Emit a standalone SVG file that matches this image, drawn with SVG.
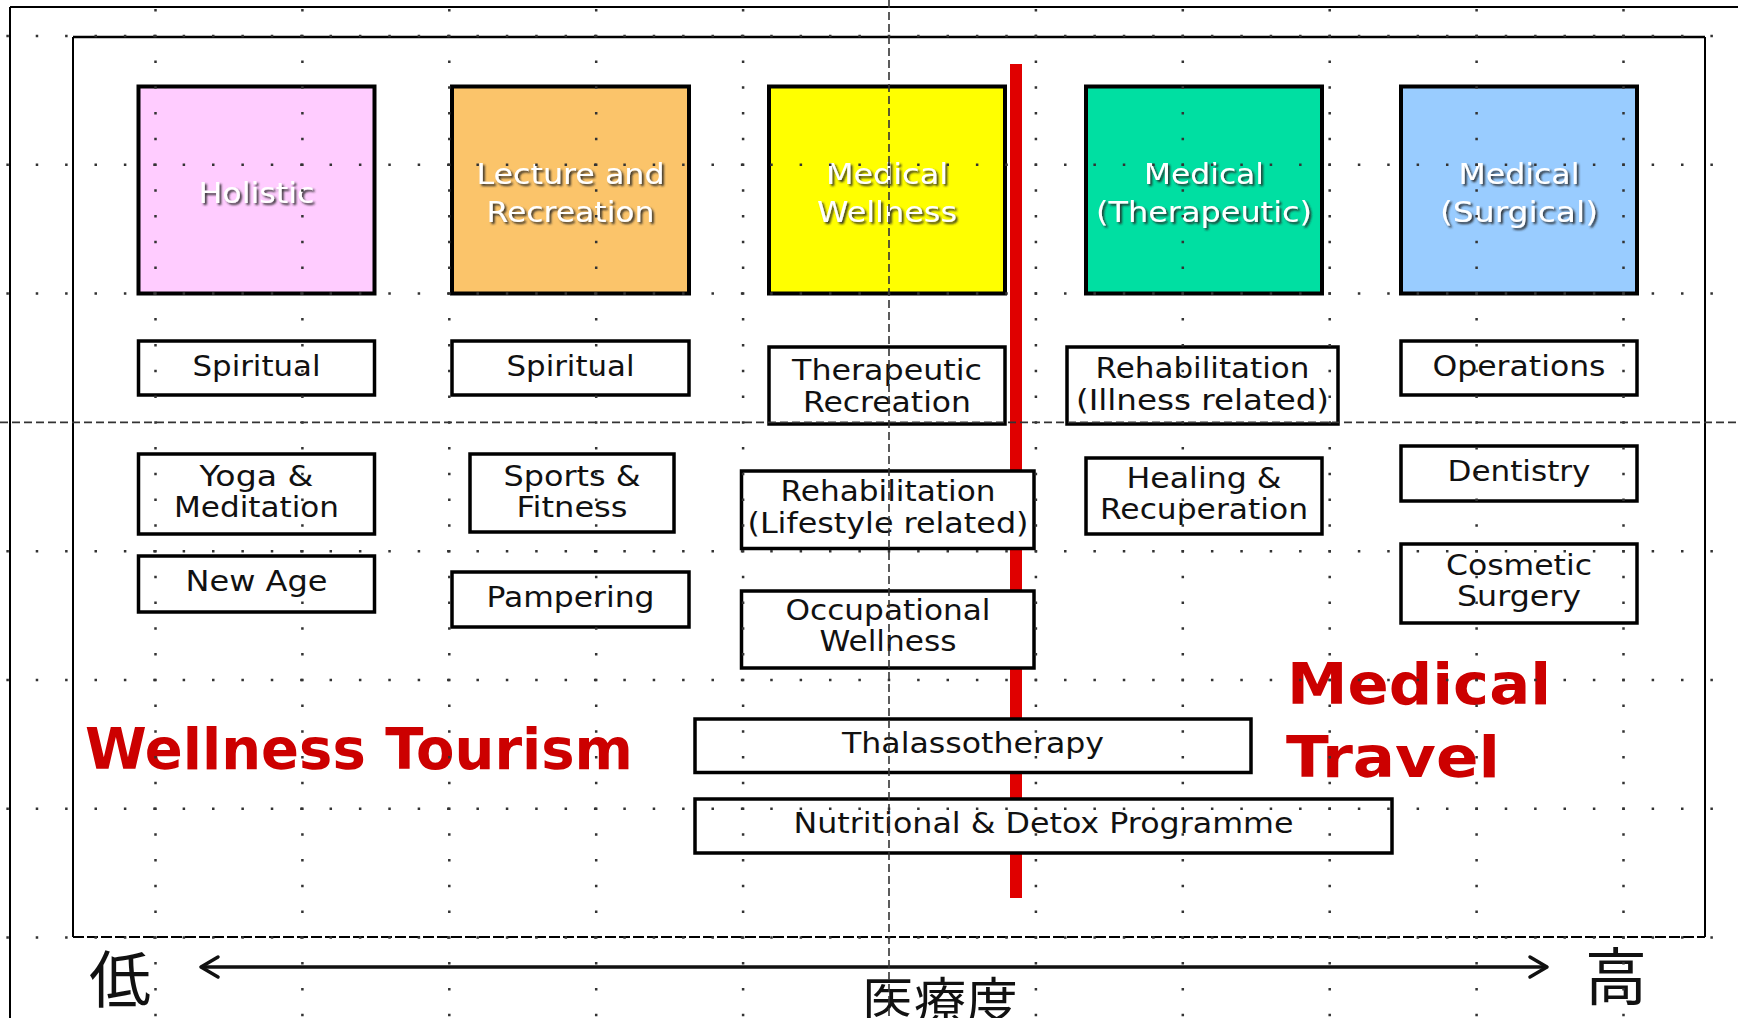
<svg xmlns="http://www.w3.org/2000/svg" width="1738" height="1018" viewBox="0 0 1738 1018">
<style>
.box{fill:#fff;stroke:#000;stroke-width:3.5}
.cbox{stroke:#000;stroke-width:4}
.lbl{font-family:"DejaVu Sans","Liberation Sans",sans-serif;font-size:28px;fill:#111;text-anchor:middle}
.clbl{font-family:"DejaVu Sans","Liberation Sans",sans-serif;font-size:29px;fill:#fff;text-anchor:middle;filter:url(#sh)}
.big{font-family:"DejaVu Sans","Liberation Sans",sans-serif;font-weight:bold;font-size:57px;fill:#cc0000}
.cjk{font-family:"Noto Sans CJK JP","Noto Sans CJK SC",sans-serif;fill:#111}
.hdot{stroke:#333;stroke-width:2.5;stroke-dasharray:2.5 26.88}
.vdot{stroke:#333;stroke-width:2.5;stroke-dasharray:2.5 23.26}
.dash{stroke:#333;stroke-width:1.6;stroke-dasharray:8 4;fill:none}
</style>
<defs>
<filter id="sh" x="-20%" y="-30%" width="140%" height="160%">
<feDropShadow dx="2" dy="2" stdDeviation="0.8" flood-color="#222" flood-opacity="0.9"/>
</filter>
</defs>
<rect width="1738" height="1018" fill="#fff"/>
<g id="frames">
<line x1="10" y1="7" x2="1738" y2="7" stroke="#000" stroke-width="2"/>
<line x1="10" y1="7" x2="10" y2="1018" stroke="#000" stroke-width="2"/>
<line x1="73" y1="37" x2="1705" y2="37" stroke="#000" stroke-width="2.5"/>
<line x1="73" y1="37" x2="73" y2="937" stroke="#000" stroke-width="2"/>
<line x1="1705" y1="37" x2="1705" y2="937" stroke="#000" stroke-width="2"/>
<line x1="73" y1="937" x2="1705" y2="937" stroke="#000" stroke-width="2" stroke-dasharray="11 3"/>
</g>
<rect id="divider" x="1010" y="64" width="12" height="834" fill="#e00000"/>
<g id="holistic"><rect class="cbox" x="138.5" y="86.5" width="236" height="207" fill="#ffccff"/><text class="clbl" x="256.5" y="203" textLength="116" lengthAdjust="spacingAndGlyphs">Holistic</text></g>
<g id="lecture"><rect class="cbox" x="452" y="86.5" width="237" height="207" fill="#fbc46a"/><text class="clbl" x="570.5" y="184" textLength="188" lengthAdjust="spacingAndGlyphs">Lecture and</text><text class="clbl" x="570.5" y="222" textLength="168" lengthAdjust="spacingAndGlyphs">Recreation</text></g>
<g id="medwell"><rect class="cbox" x="769" y="86.5" width="236" height="207" fill="#ffff00"/><text class="clbl" x="887" y="184" textLength="122" lengthAdjust="spacingAndGlyphs">Medical</text><text class="clbl" x="887" y="222" textLength="140" lengthAdjust="spacingAndGlyphs">Wellness</text></g>
<g id="medther"><rect class="cbox" x="1086" y="86.5" width="236" height="207" fill="#00dfa2"/><text class="clbl" x="1204" y="184" textLength="120" lengthAdjust="spacingAndGlyphs">Medical</text><text class="clbl" x="1204" y="222" textLength="216" lengthAdjust="spacingAndGlyphs">(Therapeutic)</text></g>
<g id="medsurg"><rect class="cbox" x="1401" y="86.5" width="236" height="207" fill="#99ccff"/><text class="clbl" x="1519" y="184" textLength="121" lengthAdjust="spacingAndGlyphs">Medical</text><text class="clbl" x="1519" y="222" textLength="158" lengthAdjust="spacingAndGlyphs">(Surgical)</text></g>
<g id="spiritual1"><rect class="box" x="138.5" y="341" width="236" height="54"/><text class="lbl" x="256.5" y="376" textLength="128" lengthAdjust="spacingAndGlyphs">Spiritual</text></g>
<g id="spiritual2"><rect class="box" x="452" y="341" width="237" height="54"/><text class="lbl" x="570.5" y="376" textLength="128" lengthAdjust="spacingAndGlyphs">Spiritual</text></g>
<g id="therrec"><rect class="box" x="769" y="347" width="236" height="77"/><text class="lbl" x="887" y="380" textLength="190" lengthAdjust="spacingAndGlyphs">Therapeutic</text><text class="lbl" x="887" y="412" textLength="168" lengthAdjust="spacingAndGlyphs">Recreation</text></g>
<g id="rehabill"><rect class="box" x="1067" y="347" width="271" height="77"/><text class="lbl" x="1202.5" y="378" textLength="214" lengthAdjust="spacingAndGlyphs">Rehabilitation</text><text class="lbl" x="1202.5" y="410" textLength="253" lengthAdjust="spacingAndGlyphs">(Illness related)</text></g>
<g id="operations"><rect class="box" x="1401" y="341" width="236" height="54"/><text class="lbl" x="1519" y="376" textLength="173" lengthAdjust="spacingAndGlyphs">Operations</text></g>
<g id="yoga"><rect class="box" x="138.5" y="454" width="236" height="80"/><text class="lbl" x="256.5" y="486" textLength="114" lengthAdjust="spacingAndGlyphs">Yoga &amp;</text><text class="lbl" x="256.5" y="517" textLength="165" lengthAdjust="spacingAndGlyphs">Meditation</text></g>
<g id="sports"><rect class="box" x="470" y="454" width="204" height="78"/><text class="lbl" x="572" y="486" textLength="137" lengthAdjust="spacingAndGlyphs">Sports &amp;</text><text class="lbl" x="572" y="517" textLength="111" lengthAdjust="spacingAndGlyphs">Fitness</text></g>
<g id="rehablife"><rect class="box" x="741.5" y="471" width="292.5" height="77.5"/><text class="lbl" x="888" y="501" textLength="215" lengthAdjust="spacingAndGlyphs">Rehabilitation</text><text class="lbl" x="888" y="533" textLength="281" lengthAdjust="spacingAndGlyphs">(Lifestyle related)</text></g>
<g id="healing"><rect class="box" x="1086" y="458" width="236" height="76"/><text class="lbl" x="1204" y="488" textLength="155" lengthAdjust="spacingAndGlyphs">Healing &amp;</text><text class="lbl" x="1204" y="519" textLength="208" lengthAdjust="spacingAndGlyphs">Recuperation</text></g>
<g id="dentistry"><rect class="box" x="1401" y="446" width="236" height="55"/><text class="lbl" x="1519" y="481" textLength="143" lengthAdjust="spacingAndGlyphs">Dentistry</text></g>
<g id="newage"><rect class="box" x="138.5" y="556" width="236" height="56"/><text class="lbl" x="256.5" y="591" textLength="142" lengthAdjust="spacingAndGlyphs">New Age</text></g>
<g id="pampering"><rect class="box" x="452" y="572" width="237" height="55"/><text class="lbl" x="570.5" y="607" textLength="168" lengthAdjust="spacingAndGlyphs">Pampering</text></g>
<g id="occupational"><rect class="box" x="741.5" y="591" width="292.5" height="77"/><text class="lbl" x="888" y="620" textLength="205" lengthAdjust="spacingAndGlyphs">Occupational</text><text class="lbl" x="888" y="651" textLength="137" lengthAdjust="spacingAndGlyphs">Wellness</text></g>
<g id="cosmetic"><rect class="box" x="1401" y="544" width="236" height="79"/><text class="lbl" x="1519" y="575" textLength="146" lengthAdjust="spacingAndGlyphs">Cosmetic</text><text class="lbl" x="1519" y="606" textLength="124" lengthAdjust="spacingAndGlyphs">Surgery</text></g>
<g id="thalasso"><rect class="box" x="695" y="719" width="556" height="53.5"/><text class="lbl" x="973" y="753" textLength="262" lengthAdjust="spacingAndGlyphs">Thalassotherapy</text></g>
<g id="nutritional"><rect class="box" x="695" y="799" width="697" height="54"/><text class="lbl" x="1043.5" y="833" textLength="500" lengthAdjust="spacingAndGlyphs">Nutritional &amp; Detox Programme</text></g>
<g id="titles">
<text class="big" x="85" y="769" textLength="548" lengthAdjust="spacingAndGlyphs">Wellness Tourism</text>
<text class="big" x="1287" y="704" textLength="264" lengthAdjust="spacingAndGlyphs">Medical</text>
<text class="big" x="1286" y="777" textLength="214" lengthAdjust="spacingAndGlyphs">Travel</text>
</g>
<g id="connectors" fill="none" stroke="#111" stroke-width="3.5" stroke-linecap="round" stroke-linejoin="round">
<line x1="202" y1="967" x2="1546" y2="967"/>
<polyline points="218,957 201,967 218,977"/>
<polyline points="1530,957 1547,967 1530,977"/>
</g>
<g id="axislabels">
<text class="cjk" x="89" y="1003" font-size="62">低</text>
<text class="cjk" x="1585" y="1000" font-size="62">高</text>
<text class="cjk" x="862" y="1021" font-size="52">医療度</text>
</g>
<g id="grid">
<line class="hdot" x1="6.35" y1="36" x2="1738" y2="36"/>
<line class="hdot" x1="6.35" y1="164.8" x2="1738" y2="164.8"/>
<line class="hdot" x1="6.35" y1="293.6" x2="1738" y2="293.6"/>
<line class="hdot" x1="6.35" y1="551.2" x2="1738" y2="551.2"/>
<line class="hdot" x1="6.35" y1="680" x2="1738" y2="680"/>
<line class="hdot" x1="6.35" y1="808.8" x2="1738" y2="808.8"/>
<line class="hdot" x1="6.35" y1="937.6" x2="1738" y2="937.6"/>
<line class="vdot" x1="155.5" y1="9" x2="155.5" y2="1018"/>
<line class="vdot" x1="302.4" y1="9" x2="302.4" y2="1018"/>
<line class="vdot" x1="449.3" y1="9" x2="449.3" y2="1018"/>
<line class="vdot" x1="596.2" y1="9" x2="596.2" y2="1018"/>
<line class="vdot" x1="743.1" y1="9" x2="743.1" y2="1018"/>
<line class="vdot" x1="1035.9" y1="9" x2="1035.9" y2="1018"/>
<line class="vdot" x1="1182.8" y1="9" x2="1182.8" y2="1018"/>
<line class="vdot" x1="1329.7" y1="9" x2="1329.7" y2="1018"/>
<line class="vdot" x1="1476.6" y1="9" x2="1476.6" y2="1018"/>
<line class="vdot" x1="1623.5" y1="9" x2="1623.5" y2="1018"/>
<line class="dash" x1="889" y1="0" x2="889" y2="1018"/>
<line class="dash" x1="0" y1="422.4" x2="1738" y2="422.4"/>
</g>
</svg>
